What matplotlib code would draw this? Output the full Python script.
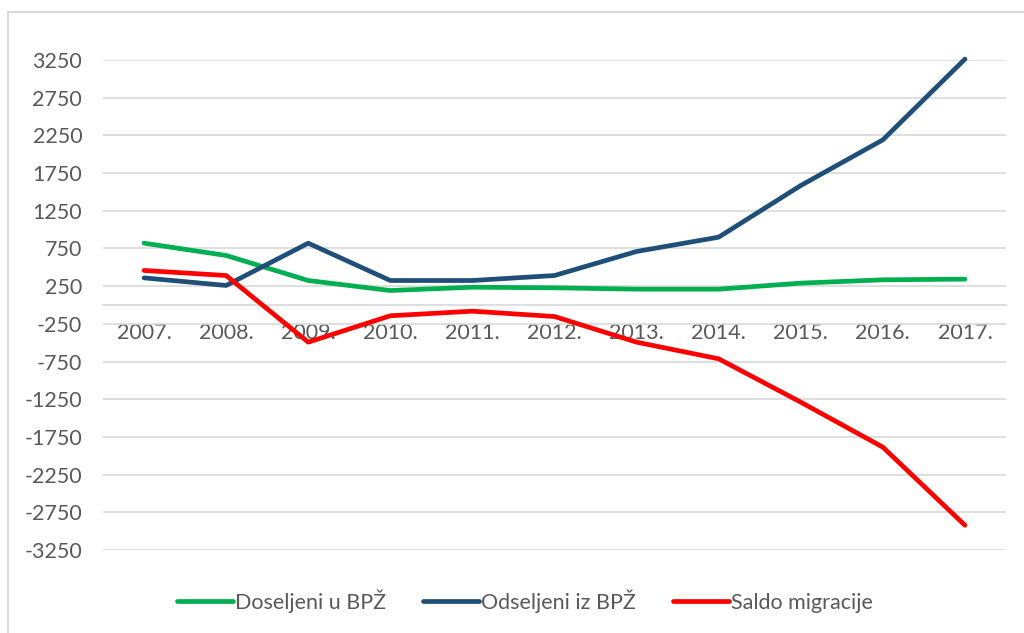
import matplotlib
matplotlib.use('Agg')
from matplotlib import pyplot as plt
from matplotlib.lines import Line2D
import numpy as np

plt.rcParams['font.family'] = ['Lato', 'DejaVu Sans']

years = ['2007.', '2008.', '2009.', '2010.', '2011.', '2012.',
         '2013.', '2014.', '2015.', '2016.', '2017.']
doseljeni = [820, 657, 325, 192, 236, 228, 210, 210, 290, 334, 343]
odseljeni = [360, 259, 820, 325, 325, 391, 710, 900, 1585, 2191, 3262]
saldo = [458, 391, -493, -143, -82, -153, -493, -714, -1289, -1886, -2922]
yticks = np.arange(-3250, 3251, 500)

txt = '#595959'
grid = '#D9D9D9'

fig = plt.figure(figsize=(10.24, 6.33), dpi=100)
ax = fig.add_axes([103/1024, 1-550/633, 903/1024, 490/633])

x = np.arange(len(years))
ax.plot(x, doseljeni, color='#00B050', lw=3.4, solid_capstyle='round', clip_on=False, label='Doseljeni u BPŽ')
ax.plot(x, odseljeni, color='#1F4E79', lw=3.4, solid_capstyle='round', clip_on=False, label='Odseljeni iz BPŽ')
ax.plot(x, saldo, color='#FF0000', lw=3.4, solid_capstyle='round', clip_on=False, label='Saldo migracije')

ax.set_xlim(-0.5, len(years) - 0.5)
ax.set_ylim(-3250, 3250)
ax.set_yticks(yticks)
ax.set_yticklabels([str(v) for v in yticks])
ax.set_xticks(x)
ax.set_xticklabels(years)
ax.yaxis.grid(True, color=grid, lw=1.2)
ax.set_axisbelow(True)

for s in ['top', 'right', 'left']:
    ax.spines[s].set_visible(False)
ax.spines['bottom'].set_position(('data', 0))
ax.spines['bottom'].set_color(grid)
ax.spines['bottom'].set_linewidth(1.2)
ax.spines['bottom'].set_zorder(0.5)

ax.tick_params(axis='y', length=0, pad=15, labelsize=15.5, labelcolor=txt)
ax.tick_params(axis='x', length=0, pad=13, labelsize=15.5, labelcolor=txt)

fig.legend(loc='center', bbox_to_anchor=(525/1024, 1-601/633), ncol=3,
           frameon=False, fontsize=15.5, labelcolor=txt,
           handlelength=2.6, handletextpad=0.1, columnspacing=1.7)

# outer chart frame
fig.add_artist(Line2D([8/1024, 8/1024], [0, 1-12/633], transform=fig.transFigure,
                      color=grid, lw=1.5))
fig.add_artist(Line2D([8/1024, 1], [1-12/633, 1-12/633], transform=fig.transFigure,
                      color=grid, lw=1.5))

fig.savefig('out.png', dpi=100)
